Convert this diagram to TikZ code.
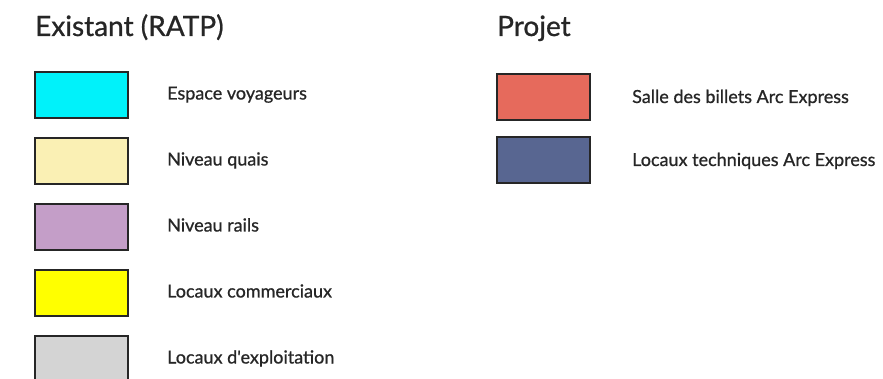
\documentclass[tikz,border=0pt]{standalone}
\usepackage{fontspec}
\setmainfont{Lato}
\newfontfamily\lblfont{Lato}[FakeBold=0.8]
\begin{document}
\begin{tikzpicture}[x=1pt,y=1pt,
  swatch/.style={draw=black!85,line width=2pt,minimum width=93pt,minimum height=46pt,inner sep=0pt,anchor=north west},
  lbl/.style={anchor=base west,font=\lblfont\fontsize{18}{20}\selectfont,text=black!85,inner sep=0pt},
  ttl/.style={anchor=base west,font=\lblfont\fontsize{28}{30}\selectfont,text=black!85,inner sep=0pt}]
\definecolor{cCyan}{RGB}{0,242,250}
\definecolor{cQuai}{RGB}{250,240,180}
\definecolor{cRail}{RGB}{196,158,200}
\definecolor{cComm}{RGB}{255,255,0}
\definecolor{cExpl}{RGB}{212,212,212}
\definecolor{cSalle}{RGB}{230,106,92}
\definecolor{cTech}{RGB}{88,102,145}
\clip (0,0) rectangle (883,-379);
\fill[white] (0,0) rectangle (883,-379);
\node[ttl] (t1) at (35,-36) {Existant (RATP)};
\node[ttl] (t2) at (497,-36) {Projet};
\node[swatch,fill=cCyan] (b1) at (34,-71) {};
\node[swatch,fill=cQuai] (b2) at (34,-137) {};
\node[swatch,fill=cRail] (b3) at (34,-203) {};
\node[swatch,fill=cComm] (b4) at (34,-269) {};
\node[swatch,fill=cExpl] (b5) at (34,-335) {};
\node[lbl] (l1) at (167,-99.5) {Espace voyageurs};
\node[lbl] (l2) at (167,-165.5) {Niveau quais};
\node[lbl] (l3) at (167,-231.5) {Niveau rails};
\node[lbl] (l4) at (167,-297.5) {Locaux commerciaux};
\node[lbl] (l5) at (167,-363.5) {Locaux d'exploitation};
\node[swatch,fill=cSalle] (b6) at (496,-73) {};
\node[swatch,fill=cTech] (b7) at (496,-136) {};
\node[lbl] (l6) at (632,-103) {Salle des billets Arc Express};
\node[lbl] (l7) at (632,-166) {Locaux techniques Arc Express};
\end{tikzpicture}
\end{document}
